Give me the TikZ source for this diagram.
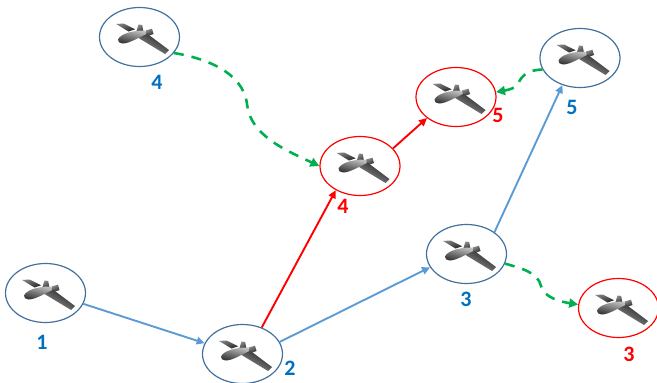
\documentclass[tikz,border=0pt]{standalone}
\usepackage{fontspec}
\setmainfont{Carlito}
\usetikzlibrary{shapes.geometric,arrows.meta}
\definecolor{ringblue}{HTML}{41719C}
\definecolor{lineblue}{HTML}{5B9BD5}
\definecolor{labelblue}{HTML}{0070C0}
\definecolor{flightgreen}{HTML}{00B050}
\tikzset{
  ringb/.style={draw=ringblue,line width=1.2pt,ellipse,minimum width=80pt,minimum height=59pt,inner sep=0pt},
  ringr/.style={draw=red,line width=1.2pt,ellipse,minimum width=80pt,minimum height=59pt,inner sep=0pt},
  linkb/.style={draw=lineblue,line width=1.9pt,-{Triangle[length=8pt,width=7.5pt]}},
  linkr/.style={draw=red,line width=1.9pt,-{Triangle[length=8pt,width=7.5pt]}},
  linkg/.style={draw=flightgreen,line width=2.6pt,dash pattern=on 10pt off 8pt,-{Triangle[length=9pt,width=9pt]}},
  lab/.style={font=\fontsize{22}{22}\selectfont\bfseries,inner sep=0pt},
  labb/.style={lab,text=labelblue},
  labr/.style={lab,text=red},
  plane/.pic={
    \shade[left color=black!50,right color=black!85,shading angle=20]
      (-23.3,-13) -- (-16,-13.5) -- (-4.3,-7.7) -- (-11,-5.5) -- cycle;
    \shade[left color=black!45,right color=black!85,shading angle=30]
      (-1,-12.5) -- (2.7,-12) -- (4,-5) -- (-4,-3) -- cycle;
    \shade[left color=black!45,right color=black!85,shading angle=30]
      (6,-6.5) -- (12.5,-8.3) -- (14,-3) -- (7,-0.5) -- cycle;
    \shade[top color=black!90,bottom color=black!35,shading angle=-30]
      (-7.5,-3) -- (5,-5.3) -- (29.5,13) -- (25.5,17) -- cycle;
    \shade[top color=black!25,bottom color=black!80,shading angle=-15]
      (-21.5,2.5) .. controls (-19,-3) and (-8,-6.5) .. (5,-6.5)
      -- (7,-3) .. controls (-2,1) and (-10,6.5) .. (-17,6.5)
      .. controls (-20,6.5) and (-22,4.5) .. (-21.5,2.5) -- cycle;
  }
}
\begin{document}
\begin{tikzpicture}[x=1pt,y=-1pt]
\useasboundingbox (0,0) rectangle (657,383);
\node[ringb] (b1) at (45.5,293) {};
\node[ringb] (b2) at (242.5,354) {};
\node[ringb] (b3) at (466.5,254) {};
\node[ringb] (b4) at (139.5,37) {};
\node[ringb] (b5) at (580,58) {};
\node[ringr] (r3) at (618.5,308) {};
\node[ringr] (r4) at (360,166) {};
\node[ringr] (r5) at (456,97) {};
\foreach \p in {b1,b2,b3,b4,b5,r3,r4,r5}
  \pic at (\p) {plane};
\node[labb] (t1) at (42,342) {1};
\node[labb] (t2) at (290,368) {2};
\node[labb] (t3) at (466,299) {3};
\node[labb] (t4) at (157,82) {4};
\node[labb] (t5) at (572,107) {5};
\node[labr] (u3) at (629,354) {3};
\node[labr] (u4) at (343,206) {4};
\node[labr] (u5) at (498,115) {5};
\draw[linkb] (b1.-16) -- (b2.164);
\draw[linkb] (b2.18) -- (b3.200);
\draw[linkb] (b3.38) -- (b5.237);
\draw[linkr] (b2.54) -- (r4.225);
\draw[linkr] (r4.28) -- (r5.216);
\draw[linkg] (b4.-25) .. controls (205,58) and (243,72) .. (247,104)
  .. controls (250,135) and (285,150) .. (r4.west);
\draw[linkg] (b3.-14) .. controls (520,268) and (538,272) .. (541,286)
  .. controls (544,298) and (562,302) .. (r3.175);
\draw[linkg] (b5.197) .. controls (530,70) and (522,74) .. (518,84) .. controls (516,88) and (508,90) .. (r5.7);
\end{tikzpicture}
\end{document}
